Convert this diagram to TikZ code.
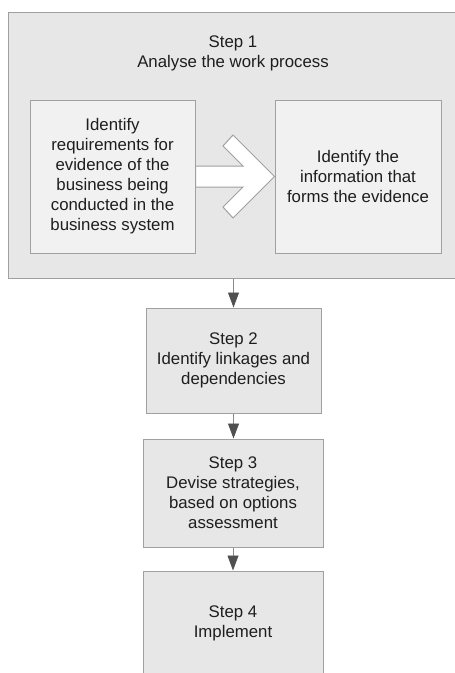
\documentclass[tikz,border=0pt]{standalone}
\usepackage{fontspec}
\setmainfont{Liberation Sans}
\usetikzlibrary{arrows.meta,calc}
\definecolor{panelfill}{HTML}{E7E7E7}
\definecolor{innerfill}{HTML}{F1F1F1}
\definecolor{stepfill}{HTML}{E7E7E7}
\definecolor{edgegray}{HTML}{A0A0A0}
\definecolor{inkgray}{HTML}{1E1E1E}
\definecolor{flowgray}{HTML}{8A8A8A}
\definecolor{headgray}{HTML}{505050}
\tikzset{
  box/.style={draw=edgegray, line width=1pt, rectangle, inner sep=0pt,
    text=inkgray, align=center, font=\fontsize{16.8}{20}\selectfont},
  panel/.style={box, fill=panelfill},
  innerbox/.style={box, fill=innerfill},
  stepbox/.style={box, fill=stepfill},
  label/.style={text=inkgray, align=center, inner sep=0pt,
    font=\fontsize{16.8}{20}\selectfont},
  flow/.style={draw=flowgray, line width=0.9pt,
    -{Triangle[width=11pt,length=15pt,fill=headgray,color=headgray]}},
  blockarrow/.style={draw=edgegray, line width=1pt, fill=white, line join=miter}
}
\begin{document}
\begin{tikzpicture}[x=1pt, y=-1pt]
  \useasboundingbox (0,0) rectangle (455,673);
  \clip (0,0) rectangle (455,673);

  % Step 1 panel with its two activities (runs past the right edge)
  \node[panel, minimum width=456pt, minimum height=266pt] (s1) at (236,145) {};
  \node[label] (s1title) at (233,53) {Step 1\\Analyse the work process};
  \node[innerbox, minimum width=165pt, minimum height=153pt] (req) at (112.5,176.5)
    {Identify\\requirements for\\evidence of the\\business being\\conducted in the\\business system};
  \node[innerbox, minimum width=166pt, minimum height=153pt] (info) at (358,176.5)
    {Identify the\\information that\\forms the evidence};

  % Block arrow from requirements to information
  \coordinate (a0) at (req.east);
  \draw[blockarrow]
    ($(a0)+(0,-10.5)$) -- (243,166) -- (223,146) -- (233,135) -- (info.west)
    -- (233,218) -- (223,207) -- (243,187) -- ($(a0)+(0,10.5)$) -- cycle;

  % Steps 2 to 4
  \node[stepbox, minimum width=175pt, minimum height=105pt] (s2) at (233.5,360.5)
    {Step 2\\Identify linkages and\\dependencies};
  \node[stepbox, minimum width=180pt, minimum height=108pt] (s3) at (233,493)
    {Step 3\\Devise strategies,\\based on options\\assessment};
  \node[stepbox, minimum width=180pt, minimum height=104pt] (s4) at (233,623)
    {Step 4\\Implement};

  % Flow between steps
  \draw[flow] (s1.south -| s2.north) -- (s2.north);
  \draw[flow] (s2.south) -- (s2.south |- s3.north);
  \draw[flow] (s3.south) -- (s4.north);
\end{tikzpicture}
\end{document}
